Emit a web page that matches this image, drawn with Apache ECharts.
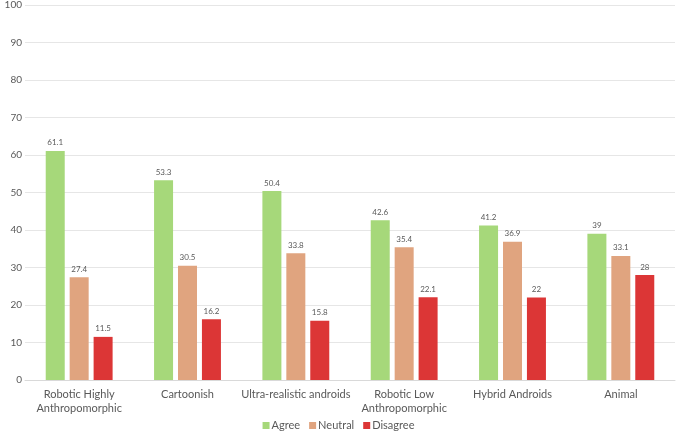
<!DOCTYPE html>
<html><head><meta charset="utf-8">
<script src="https://cdn.jsdelivr.net/npm/echarts@6/dist/echarts.min.js"></script>
<style>html,body{margin:0;padding:0;background:#fff}#c{width:677px;height:434px}</style>
</head><body><div id="c"></div>
<script>
const categories = ['Robotic Highly\nAnthropomorphic','Cartoonish','Ultra-realistic androids','Robotic Low\nAnthropomorphic','Hybrid Androids','Animal'];
const agree = [61.1, 53.3, 50.4, 42.6, 41.2, 39];
const neutral = [27.4, 30.5, 33.8, 35.4, 36.9, 33.1];
const disagree = [11.5, 16.2, 15.8, 22.1, 22, 28];
const seriesNames = ['Agree','Neutral','Disagree'];
const colors = ['#a6d87a','#e0a47f','#dc3636'];
const font = 'Lato';
const chart = echarts.init(document.getElementById('c'));
const mk = (name, data, color) => ({
  name, type:'bar', data, barWidth:19, barGap:'26%',
  itemStyle:{color},
  label:{show:true, position:'top', fontSize:8, color:'#595959', fontFamily:font, distance:4}
});
chart.setOption({
  animation:false,
  textStyle:{fontFamily:font},
  grid:{left:25, right:2, top:5, bottom:54, containLabel:false, outerBoundsMode:'none'},
  legend:{top:420, left:'center', padding:0, itemWidth:7, itemHeight:7, itemGap:9, icon:'rect',
    textStyle:{fontSize:11, color:'#595959', fontFamily:font, padding:[0,0,0,-3]}, data:seriesNames},
  xAxis:{type:'category', data:categories,
    axisLine:{lineStyle:{color:'#d9d9d9'}}, axisTick:{show:false},
    axisLabel:{fontSize:11, color:'#595959', fontFamily:font, margin:7, lineHeight:14, interval:0}},
  yAxis:{type:'value', min:0, max:100, interval:10,
    axisLabel:{fontSize:10, color:'#595959', fontFamily:font, margin:3, align:'right'},
    splitLine:{lineStyle:{color:'#e6e6e6'}}, axisLine:{show:false}, axisTick:{show:false}},
  series:[mk(seriesNames[0], agree, colors[0]), mk(seriesNames[1], neutral, colors[1]), mk(seriesNames[2], disagree, colors[2])]
});
</script></body></html>
